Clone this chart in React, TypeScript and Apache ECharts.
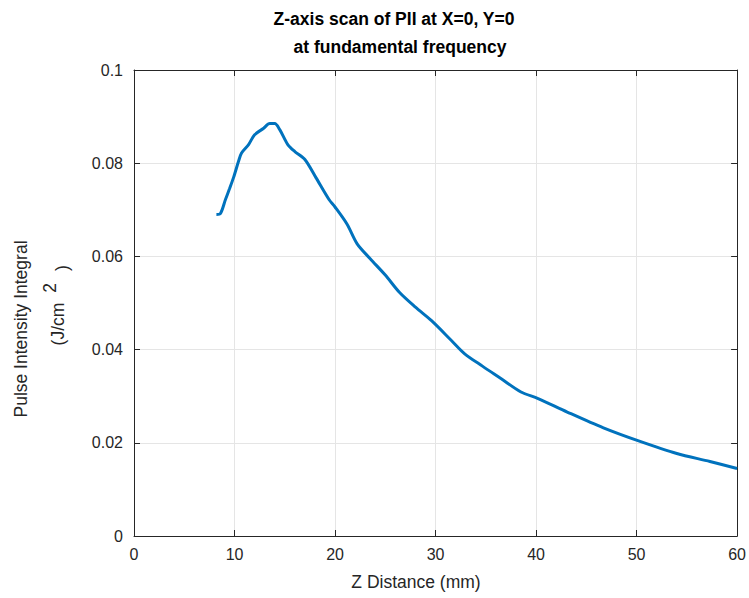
import React, { useEffect, useRef } from "react";
import * as echarts from "echarts";

const zDistance = [8.2, 8.6, 9.1, 9.5, 9.9, 10.4, 10.7, 11.4, 12.0, 12.9, 13.5, 14.0, 14.5, 15.3, 16.0, 17.0, 18.1, 19.4, 20.0, 21.2, 22.2, 23.5, 25.0, 26.4, 28.0, 29.6, 31.6, 32.9, 34.7, 36.5, 38.5, 40.2, 43.1, 46.7, 50.2, 54.0, 57.3, 60.0];
const pii = [0.069, 0.0692, 0.0722, 0.0745, 0.0769, 0.0804, 0.0822, 0.084, 0.0861, 0.0875, 0.0885, 0.0885, 0.0872, 0.084, 0.0825, 0.0808, 0.0769, 0.0722, 0.0706, 0.0669, 0.0627, 0.0595, 0.056, 0.0523, 0.0491, 0.0462, 0.0419, 0.0391, 0.0364, 0.0338, 0.0309, 0.0295, 0.0266, 0.0232, 0.0204, 0.0177, 0.016, 0.0145];
const yTicks = ["0", "0.02", "0.04", "0.06", "0.08", "0.1"];
const titleLines = ["Z-axis scan of PII at X=0, Y=0", "at fundamental frequency"];
const xLabel = "Z Distance (mm)";
const yLabelLines = ["Pulse Intensity Integral", "(J/cm", "2", ")"];

const FONT = "'Liberation Sans', Arial, Helvetica, sans-serif";
const AXIS = "#262626";

export default function App() {
  const ref = useRef<HTMLDivElement>(null);
  useEffect(() => {
    if (!ref.current) return;
    const chart = echarts.init(ref.current, undefined, { renderer: "svg" });
    const data = zDistance.map((z, i) => [z, pii[i]]);
    const gridLine = { show: true, lineStyle: { color: "#e5e5e5", width: 1 } };
    const boxAxis = {
      axisLine: { show: true, onZero: false, lineStyle: { color: AXIS, width: 1 } },
      axisTick: { show: true, inside: true, length: 6, lineStyle: { color: AXIS } },
    };
    const txt = (text: string, x: number, y: number, size: number, bold: boolean, rot = 0) => ({
      type: "text", x, y, rotation: rot,
      style: { text, fontSize: size, fontWeight: bold ? "bold" : "normal", fontFamily: FONT, fill: bold ? "#000" : AXIS, align: "center", verticalAlign: "middle" },
    });
    chart.setOption({
      animation: false,
      backgroundColor: "#ffffff",
      grid: { left: 134, right: 7, top: 70, bottom: 62, containLabel: false },
      xAxis: [
        {
          type: "value", min: 0, max: 60, interval: 10, ...boxAxis,
          axisLabel: { color: AXIS, fontSize: 16, fontFamily: FONT, margin: 10 },
          splitLine: gridLine,
        },
        {
          type: "value", min: 0, max: 60, interval: 10, position: "top", ...boxAxis,
          axisLabel: { show: false }, splitLine: { show: false },
        },
      ],
      yAxis: [
        {
          type: "value", min: 0, max: 0.1, interval: 0.02, ...boxAxis,
          axisLabel: {
            color: AXIS, fontSize: 16, fontFamily: FONT, margin: 11,
            formatter: (v: number) => yTicks[Math.round(v / 0.02)] ?? String(v),
          },
          splitLine: gridLine,
        },
        {
          type: "value", min: 0, max: 0.1, interval: 0.02, position: "right", ...boxAxis,
          axisLabel: { show: false }, splitLine: { show: false },
        },
      ],
      graphic: [
        txt(titleLines[0], 394, 19, 17.5, true),
        txt(titleLines[1], 400, 47, 17.5, true),
        txt(xLabel, 416, 582, 17.5, false),
        txt(yLabelLines[0], 21, 329, 17.5, false, Math.PI / 2),
        txt(yLabelLines[1], 58, 324, 17.5, false, Math.PI / 2),
        txt(yLabelLines[2], 50, 288, 17.5, false, Math.PI / 2),
        txt(yLabelLines[3], 62, 268, 17.5, false, Math.PI / 2),
      ],
      series: [
        {
          type: "line", data, showSymbol: false, smooth: 0.3,
          lineStyle: { color: "#0072BD", width: 3 },
          xAxisIndex: 0, yAxisIndex: 0,
        },
      ],
    });
    return () => chart.dispose();
  }, []);
  return <div ref={ref} style={{ width: 749, height: 598, position: "absolute", left: 0, top: 0 }} />;
}
